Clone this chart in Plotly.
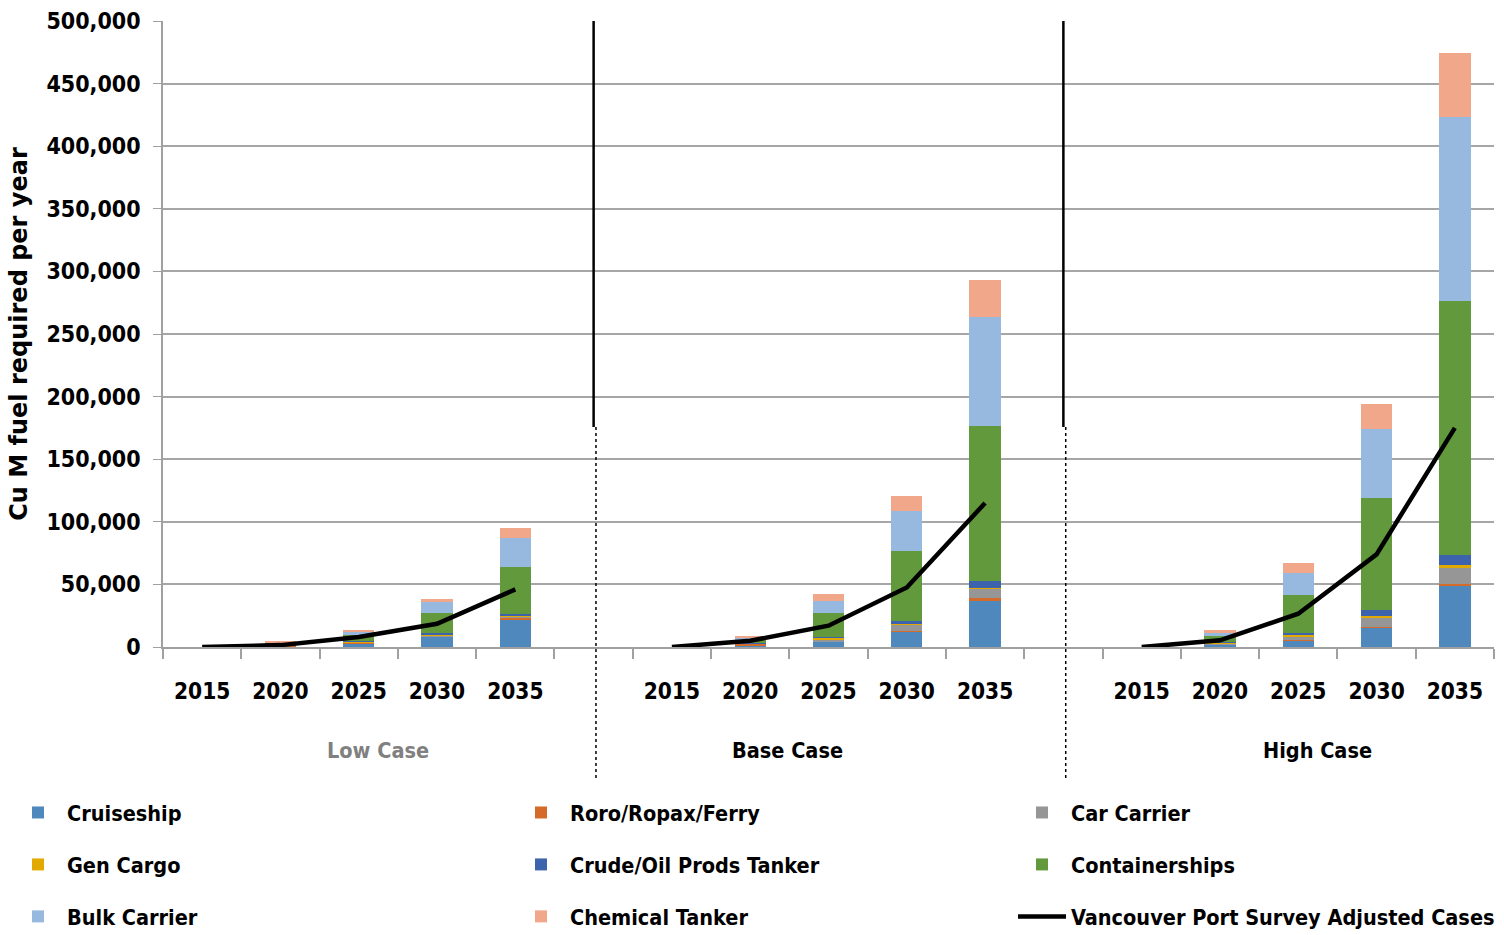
import plotly.graph_objects as go

# ---------------- data ----------------
CASES = ["Low Case", "Base Case", "High Case"]
YEARS = ["2015", "2020", "2025", "2030", "2035"]

# values ordered: Low 2015..2035, Base 2015..2035, High 2015..2035
cruiseship = [0, 300, 2500, 8000, 22000,   0, 500, 4000, 12500, 37500,   0, 2000, 5500, 15500, 48500]
roro_ferry = [0, 1500, 800, 300, 1500,     0, 2000, 500, 500, 1500,      0, 200, 300, 500, 2000]
car_carrier = [0, 0, 500, 1200, 1000,      0, 300, 1500, 5000, 7500,     0, 200, 2700, 7500, 13000]
gen_cargo = [0, 0, 300, 300, 300,          0, 300, 1500, 500, 1000,      0, 1500, 1500, 1300, 2000]
crude_tanker = [0, 0, 300, 1000, 1500,     0, 200, 300, 2500, 5000,      0, 200, 1000, 5000, 8000]
containerships = [0, 1500, 5500, 16500, 38000,  0, 2500, 19000, 56000, 124000,  0, 4500, 30400, 89000, 203000]
bulk_carrier = [0, 500, 2500, 8800, 23000,  0, 1500, 10000, 31500, 87000,  0, 2600, 17800, 55000, 147000]
chemical_tanker = [0, 500, 1500, 2400, 7500,  0, 1500, 5300, 12500, 30000,  0, 2400, 7700, 20500, 51000]
vancouver_survey = [0, 1500, 8000, 18500, 46000,  0, 5000, 17000, 47500, 115000,  0, 5300, 26600, 74000, 175000]

SERIES = [
    ("Cruiseship", cruiseship, "#4F88BD", "legend"),
    ("Roro/Ropax/Ferry", roro_ferry, "#D46B2A", "legend2"),
    ("Car Carrier", car_carrier, "#969696", "legend3"),
    ("Gen Cargo", gen_cargo, "#E2AA00", "legend"),
    ("Crude/Oil Prods Tanker", crude_tanker, "#3D63AC", "legend2"),
    ("Containerships", containerships, "#62993C", "legend3"),
    ("Bulk Carrier", bulk_carrier, "#97B8DF", "legend"),
    ("Chemical Tanker", chemical_tanker, "#F0A78A", "legend2"),
]
LINE_NAME = "Vancouver Port Survey Adjusted Cases"

# slot positions: each case occupies 5 slots followed by one empty slot
SLOT = len(YEARS) + 1
xpos = [ci * SLOT + yi for ci in range(len(CASES)) for yi in range(len(YEARS))]
xlabels = [y for _ in CASES for y in YEARS]

NARROW = "DejaVu Sans Condensed, Liberation Sans Narrow, DejaVu Sans, sans-serif"


def nfont(size, color="black"):
    return dict(family=NARROW, size=size, weight="bold", color=color)


fig = go.Figure()
for name, vals, color, leg in SERIES:
    fig.add_trace(go.Bar(
        x=xpos, y=vals, name=name, marker=dict(color=color, line=dict(width=0)),
        width=0.4, legend=leg, legendgroup=name,
    ))

# line with breaks between cases
lx, ly = [], []
for ci in range(len(CASES)):
    for yi in range(len(YEARS)):
        lx.append(ci * SLOT + yi)
        ly.append(vancouver_survey[ci * len(YEARS) + yi])
    if ci < len(CASES) - 1:
        lx.append(None)
        ly.append(None)
fig.add_trace(go.Scatter(
    x=lx, y=ly, mode="lines", name=LINE_NAME, connectgaps=False,
    line=dict(color="black", width=4.5), legend="legend3", legendgroup=LINE_NAME,
))

# legend column anchors in pixels -> paper fractions of the plot area
PLOT_L, PLOT_W, PLOT_B, PLOT_H = 163, 1331, 647, 626


def px_x(p):
    return (p - PLOT_L) / PLOT_W


def px_y(p):
    return (PLOT_B - p) / PLOT_H


n_slots = len(CASES) * SLOT - 1
leg_common = dict(yanchor="top", xanchor="left", orientation="v", traceorder="grouped",
                  tracegroupgap=21, itemwidth=48, font=nfont(21.5),
                  bgcolor="rgba(0,0,0,0)", y=px_y(792))
fig.update_layout(
    width=1504, height=935,
    margin=dict(l=163, r=10, t=21, b=288, autoexpand=False),
    paper_bgcolor="white", plot_bgcolor="white",
    barmode="stack",
    font=dict(family=NARROW, color="black"),
    xaxis=dict(
        range=[-0.5, n_slots - 0.5], automargin=False,
        tickmode="array", tickvals=xpos, ticktext=xlabels, tickangle=0,
        ticks="", showgrid=False, zeroline=False,
        showline=True, linecolor="#A0A0A0", linewidth=1.5,
        tickfont=nfont(22.5),
        ticklabelstandoff=23,
        minor=dict(tick0=-0.5, dtick=1, ticks="outside", ticklen=10,
                   tickcolor="#A0A0A0", tickwidth=1.5, showgrid=False),
    ),
    yaxis=dict(
        range=[0, 500000], dtick=50000, tickformat=",", automargin=False,
        showgrid=True, gridcolor="#A6A6A6", gridwidth=1.5, zeroline=False,
        showline=True, linecolor="#A0A0A0", linewidth=1.5,
        ticks="outside", ticklen=8, tickcolor="#A0A0A0",
        tickfont=nfont(23),
        ticklabelstandoff=8,
        title=dict(text="Cu M fuel required per year",
                   font=dict(family="Verdana, DejaVu Sans, sans-serif", size=24, weight="bold"),
                   standoff=12),
    ),
    legend=dict(x=px_x(9), **leg_common),
    legend2=dict(x=px_x(512), **leg_common),
    legend3=dict(x=px_x(1013), **leg_common),
)

# case labels under each group
case_x = [2.25, 7.48, 14.25]
case_colors = ["#808080", "black", "black"]
for cname, cx, cc in zip(CASES, case_x, case_colors):
    fig.add_annotation(x=cx, xref="x", y=px_y(750), yref="paper", text=cname,
                       showarrow=False, yanchor="middle", xanchor="center",
                       font=nfont(21.5, cc))

# group dividers in the empty slots
for ci in range(len(CASES) - 1):
    xd = ci * SLOT + len(YEARS)
    fig.add_shape(type="line", xref="x", yref="paper", x0=xd, x1=xd, y0=1.0, y1=px_y(427),
                  line=dict(color="black", width=2.5))
    fig.add_shape(type="line", xref="x", yref="paper", x0=xd + 0.03, x1=xd + 0.03,
                  y0=px_y(427), y1=px_y(780),
                  line=dict(color="black", width=1.5, dash="dot"))

fig.write_html("out.html")
